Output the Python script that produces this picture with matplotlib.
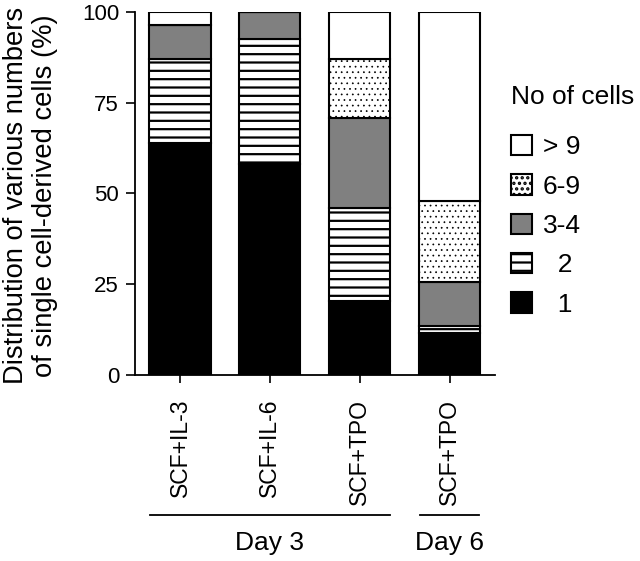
import numpy as np
import matplotlib
matplotlib.use('Agg')
import matplotlib.pyplot as plt
import matplotlib.transforms as mtransforms

plt.rcParams['font.family'] = ['Liberation Sans', 'DejaVu Sans']

# data (% of single cell-derived colonies)
conditions = ['SCF+IL-3', 'SCF+IL-6', 'SCF+TPO', 'SCF+TPO']
groups = ['Day 3', 'Day 6']
group_members = [[0, 1, 2], [3]]
cells_1 = [64.0, 58.0, 20.5, 11.7]
cells_2 = [23.0, 34.5, 25.5, 1.8]
cells_3_4 = [9.5, 7.5, 24.8, 12.2]
cells_6_9 = [0.0, 0.0, 16.2, 22.3]
cells_gt9 = [3.5, 0.0, 13.0, 52.0]

# (label, values, style, hatch linewidth)
series = [
    ('  1', cells_1, dict(color='black'), 1.6),
    ('  2', cells_2, dict(color='white', hatch='--'), 1.6),
    ('3-4', cells_3_4, dict(color='#808080'), 1.6),
    ('6-9', cells_6_9, dict(color='white', hatch='...'), 0.5),
    ('> 9', cells_gt9, dict(color='white'), 1.6),
]

fig = plt.figure(figsize=(6.4, 5.61), dpi=100)
ax = fig.add_axes([0.211, 0.3316, 0.562, 0.647])

x = np.arange(len(conditions))
bottom = np.zeros(len(conditions))
handles = []
for label, vals, style, hlw in series:
    plt.rcParams['hatch.linewidth'] = hlw
    vals = np.array(vals)
    b = ax.bar(x, vals, width=0.68, bottom=bottom, edgecolor='black',
               linewidth=1.5, label=label, **style)
    handles.append(b)
    bottom += vals

ax.set_xlim(-0.5, 3.5)
ax.set_ylim(0, 100)
ax.set_yticks([0, 25, 50, 75, 100])
ax.set_xticks(x)
ax.set_xticklabels(conditions, rotation=90, fontsize=16.5)
ax.tick_params(axis='y', labelsize=16, length=6.5, width=1.2, direction='out', pad=5)
ax.tick_params(axis='x', length=6, width=1.2, direction='out', pad=11)
for s in ['top', 'right']:
    ax.spines[s].set_visible(False)
for s in ['left', 'bottom']:
    ax.spines[s].set_linewidth(1.3)

ax.set_ylabel('Distribution of various numbers\nof single cell-derived cells (%)',
              fontsize=19.7, linespacing=1.15)
ax.yaxis.set_label_coords(-0.215, 0.495)

# group brackets below tick labels
trans = mtransforms.blended_transform_factory(ax.transData, ax.transAxes)
for name, members in zip(groups, group_members):
    x0 = x[members[0]] - 0.33
    x1 = x[members[-1]] + 0.33
    ax.plot([x0, x1], [-0.386, -0.386], color='black', lw=1.3,
            transform=trans, clip_on=False)
    ax.text((x0 + x1) / 2, -0.462, name, transform=trans, ha='center',
            va='center', fontsize=19)

leg = fig.legend(handles[::-1], [h.get_label() for h in handles[::-1]],
                 loc='upper left', bbox_to_anchor=(0.798, 0.849),
                 title='No of cells', fontsize=19, title_fontsize=19,
                 frameon=False, handlelength=0.8, handleheight=0.8,
                 labelspacing=0.57, handletextpad=0.42, alignment='left',
                 borderpad=0, borderaxespad=0)
leg._legend_box.sep = 19

fig.savefig('out.png', dpi=100)
